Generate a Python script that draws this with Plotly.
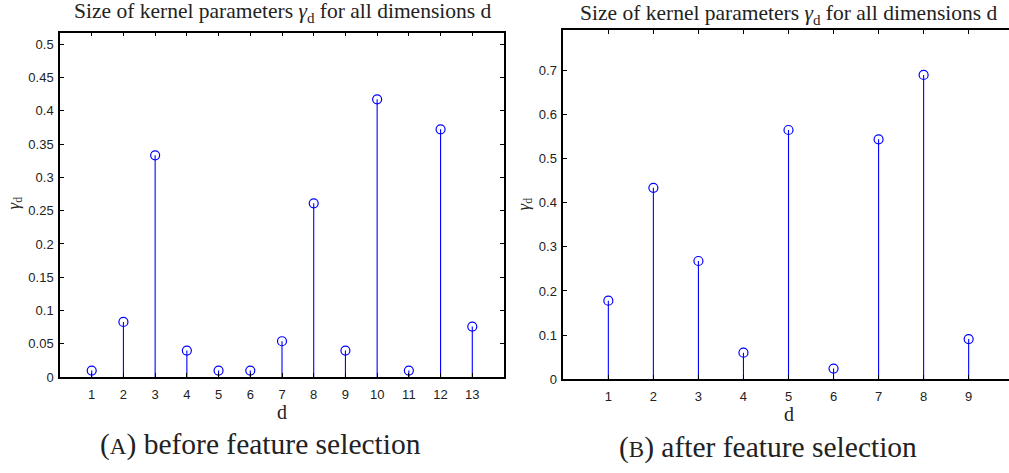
import plotly.graph_objects as go

# Data
d_before = list(range(1, 14))
gamma_before = [0.010, 0.083, 0.333, 0.040, 0.010, 0.010, 0.054, 0.261, 0.040, 0.417, 0.010, 0.372, 0.076]
d_after = list(range(1, 10))
gamma_after = [0.178, 0.434, 0.268, 0.060, 0.565, 0.024, 0.544, 0.690, 0.091]

yticks_before = [0, 0.05, 0.1, 0.15, 0.2, 0.25, 0.3, 0.35, 0.4, 0.45, 0.5]
yticklabels_before = ["0", "0.05", "0.1", "0.15", "0.2", "0.25", "0.3", "0.35", "0.4", "0.45", "0.5"]
yticks_after = [0, 0.1, 0.2, 0.3, 0.4, 0.5, 0.6, 0.7]
yticklabels_after = ["0", "0.1", "0.2", "0.3", "0.4", "0.5", "0.6", "0.7"]

title_text = "Size of kernel parameters <i>γ</i><sub>d</sub> for all dimensions d"
cap_a = "(<span style='font-size:23px'>A</span>) before feature selection"
cap_b = "(<span style='font-size:23px'>B</span>) after feature selection"

BLUE = "#0000ff"
W, H = 1009, 473


def stem_xy(xs, ys):
    sx, sy = [], []
    for x, y in zip(xs, ys):
        sx += [x, x, None]
        sy += [0, y, None]
    return sx, sy


fig = go.Figure()
for xs, ys, xa, ya in [(d_before, gamma_before, "x", "y"), (d_after, gamma_after, "x2", "y2")]:
    sx, sy = stem_xy(xs, ys)
    fig.add_trace(go.Scatter(x=sx, y=sy, mode="lines", line=dict(color=BLUE, width=1.1),
                             xaxis=xa, yaxis=ya, showlegend=False, hoverinfo="skip"))
    fig.add_trace(go.Scatter(x=xs, y=ys, mode="markers",
                             marker=dict(symbol="circle-open", size=9, color=BLUE, line=dict(width=1.2, color=BLUE)),
                             xaxis=xa, yaxis=ya, showlegend=False))

tickfont = dict(family="Liberation Sans, Arial", size=13, color="#222")
serif = "Liberation Serif, DejaVu Serif, serif"

# pixel geometry
L1, R1, T1, B1 = 60, 504, 33.3, 383.7
L2, T2, B2 = 563.3, 31, 385.7
unit2 = 45.04
xmax2 = (W - L2) / unit2
C1 = (L1 + R1) / 2
C2 = (L2 + 1013.7) / 2

common = dict(showline=True, linecolor="black", linewidth=1.5, ticks="inside", ticklen=4,
              tickcolor="black", tickfont=tickfont, showgrid=False, zeroline=False)

fig.update_layout(
    width=W, height=H, margin=dict(l=0, r=0, t=0, b=0),
    paper_bgcolor="white", plot_bgcolor="white",
    xaxis=dict(domain=[L1 / W, R1 / W], range=[0, 14], tickvals=d_before, ticklabelstandoff=4,
               ticktext=[str(v) for v in d_before], mirror="ticks", anchor="y", **common),
    yaxis=dict(domain=[(H - B1) / H, (H - T1) / H], range=[0, 0.517], tickvals=yticks_before,
               ticklabelstandoff=2,
               ticktext=yticklabels_before, mirror="ticks", anchor="x", **common),
    xaxis2=dict(domain=[L2 / W, 1.0], range=[0, xmax2], tickvals=d_after, ticklabelstandoff=4,
                ticktext=[str(v) for v in d_after], mirror="ticks", anchor="y2", **common),
    yaxis2=dict(domain=[(H - B2) / H, (H - T2) / H], range=[0, 0.7907], tickvals=yticks_after,
                ticklabelstandoff=2,
                ticktext=yticklabels_after, mirror=False, anchor="x2", **common),
)


def A(text, xp, yp, size, angle=0):
    return dict(text=text, x=xp / W, y=1 - yp / H, xref="paper", yref="paper", showarrow=False,
                textangle=angle, font=dict(family=serif, size=size, color="#222"),
                xanchor="center", yanchor="middle")


ann = [
    A(title_text, C1, 13, 21.5),
    A(title_text, C2, 15, 21.5),
    A("d", C1, 419, 20),
    A("d", C2, 421, 20),
    A("<i>γ</i><sub>d</sub>", 15, 207, 17, -90),
    A("<i>γ</i><sub>d</sub>", 525, 208, 17, -90),
    A(cap_a, 260, 452, 29.5),
    A(cap_b, 768, 455, 29.5),
]
fig.update_layout(annotations=ann)

fig.write_html("out.html")
